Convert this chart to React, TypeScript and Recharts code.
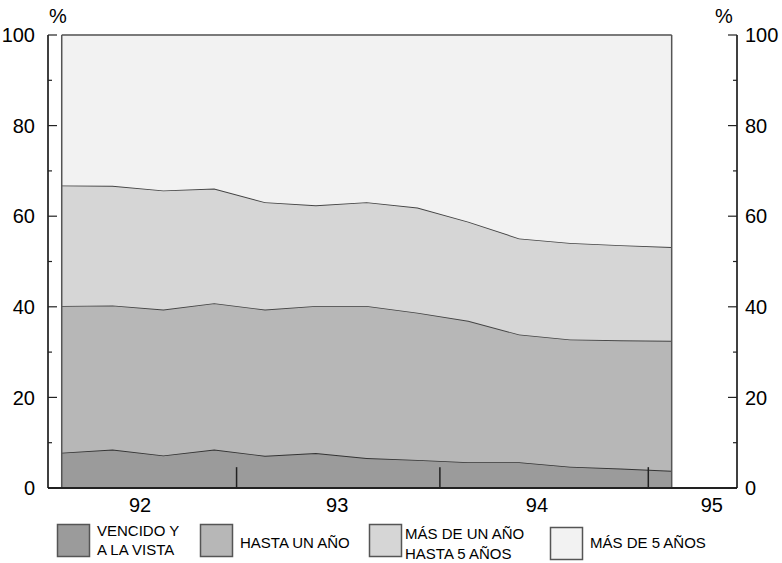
import React from "react";
import { AreaChart, Area, XAxis, YAxis, ReferenceLine } from "recharts";

const quarters = [0, 1, 2, 3, 4, 5, 6, 7, 8, 9, 10, 11, 12];
const vencido = [7.8, 8.5, 7.2, 8.5, 7.1, 7.7, 6.6, 6.2, 5.7, 5.7, 4.7, 4.3, 3.8];
const hastaUnAno = [32.4, 31.8, 32.2, 32.3, 32.3, 32.5, 33.6, 32.5, 31.2, 28.2, 28.1, 28.3, 28.7];
const unACinco = [26.6, 26.4, 26.3, 25.3, 23.7, 22.2, 22.9, 23.2, 21.9, 21.2, 21.3, 21.0, 20.7];
const masDeCinco = [33.2, 33.3, 34.3, 33.9, 36.9, 37.6, 36.9, 38.1, 41.2, 44.9, 45.9, 46.4, 46.8];

const yearLabels = ["92", "93", "94", "95"];
const yearLabelPos = [1.54, 5.42, 9.35, 12.79];
const yearTickPos = [3.44, 7.44, 11.54];
const yTicks = [0, 10, 20, 30, 40, 50, 60, 70, 80, 90, 100];

const data = quarters.map((q, i) => ({
  q,
  a: vencido[i],
  b: hastaUnAno[i],
  c: unACinco[i],
  d: masDeCinco[i],
}));

const FONT = "'Liberation Sans', Arial, sans-serif";
const colors = ["#9b9b9b", "#b7b7b7", "#d6d6d6", "#f2f2f2"];
const LEFT_AXIS_X = 48;
const RIGHT_AXIS_X = 737;

const LeftTick = (props: any) => {
  const { y, payload } = props;
  const v = payload.value;
  const major = v % 20 === 0;
  return (
    <g>
      <line x1={LEFT_AXIS_X} x2={LEFT_AXIS_X + (major ? 9 : 4)} y1={y} y2={y} stroke="#222" strokeWidth={1.2} />
      {major && (
        <text x={35} y={y} dy="0.36em" textAnchor="end" fontSize={20} fontFamily={FONT} fill="#000">
          {v}
        </text>
      )}
    </g>
  );
};

const RightTick = (props: any) => {
  const { y, payload } = props;
  const v = payload.value;
  const major = v % 20 === 0;
  return (
    <g>
      <line x1={RIGHT_AXIS_X - (major ? 9 : 4)} x2={RIGHT_AXIS_X} y1={y} y2={y} stroke="#222" strokeWidth={1.2} />
      {major && (
        <text x={745} y={y} dy="0.36em" textAnchor="start" fontSize={20} fontFamily={FONT} fill="#000">
          {v}
        </text>
      )}
    </g>
  );
};

const XTick = (props: any) => {
  const { x, payload, index } = props;
  return (
    <text x={x} y={498} dy="0.71em" textAnchor="middle" fontSize={20} fontFamily={FONT} fill="#000">
      {yearLabels[index] ?? payload.value}
    </text>
  );
};

const legendItems = [
  { lines: ["VENCIDO Y", "A LA VISTA"], box: [57, 524], text: [97, [536, 555]], color: colors[0] },
  { lines: ["HASTA UN AÑO"], box: [200, 524], text: [240, [548]], color: colors[1] },
  { lines: ["MÁS DE UN AÑO", "HASTA 5 AÑOS"], box: [369, 524], text: [405, [539, 559]], color: colors[2] },
  { lines: ["MÁS DE 5 AÑOS"], box: [550, 527], text: [590, [548]], color: colors[3] },
];

export default function App() {
  return (
    <div style={{ position: "absolute", left: 0, top: 0, width: 782, height: 563, background: "#fff" }}>
      <AreaChart
        width={782}
        height={563}
        data={data}
        margin={{ top: 35, right: 0, bottom: 45, left: 8 }}
      >
        <XAxis
          dataKey="q"
          type="number"
          domain={[-0.27, 13.285]}
          ticks={yearLabelPos}
          interval={0}
          tick={<XTick />}
          tickLine={false}
          axisLine={{ stroke: "#222", strokeWidth: 2 }}
          height={30}
          allowDataOverflow
        />
        <YAxis
          yAxisId="left"
          orientation="left"
          type="number"
          domain={[0, 100]}
          ticks={yTicks}
          interval={0}
          width={40}
          tick={<LeftTick />}
          tickLine={false}
          axisLine={{ stroke: "#000", strokeWidth: 1.5 }}
        />
        <YAxis
          yAxisId="right"
          orientation="right"
          type="number"
          domain={[0, 100]}
          ticks={yTicks}
          interval={0}
          width={45}
          tick={<RightTick />}
          tickLine={false}
          axisLine={{ stroke: "#000", strokeWidth: 1.5 }}
          allowDataOverflow
        />
        <Area yAxisId="left" type="linear" dataKey="a" stackId="1" fill={colors[0]} fillOpacity={1} stroke="#333" strokeWidth={1.8} isAnimationActive={false} />
        <Area yAxisId="left" type="linear" dataKey="b" stackId="1" fill={colors[1]} fillOpacity={1} stroke="#444" strokeWidth={1.8} isAnimationActive={false} />
        <Area yAxisId="left" type="linear" dataKey="c" stackId="1" fill={colors[2]} fillOpacity={1} stroke="#444" strokeWidth={1.8} isAnimationActive={false} />
        <Area yAxisId="left" type="linear" dataKey="d" stackId="1" fill={colors[3]} fillOpacity={1} stroke="#7a7a7a" strokeWidth={1.8} isAnimationActive={false} />
        <Area yAxisId="right" type="linear" dataKey="a" fill="none" fillOpacity={0} stroke="none" isAnimationActive={false} />
        <ReferenceLine yAxisId="left" x={0} stroke="#555" strokeWidth={1.5} />
        <ReferenceLine yAxisId="left" x={12} stroke="#555" strokeWidth={1.5} />
        {yearTickPos.map((p) => (
          <ReferenceLine
            key={p}
            yAxisId="left"
            segment={[{ x: p, y: 0 }, { x: p, y: 4.6 }]}
            stroke="#222"
            strokeWidth={1.5}
          />
        ))}
      </AreaChart>
      <svg width={782} height={563} style={{ position: "absolute", left: 0, top: 0, pointerEvents: "none" }}>
        <text x={58} y={23} textAnchor="middle" fontSize={20} fontFamily={FONT} fill="#000">%</text>
        <text x={724} y={23} textAnchor="middle" fontSize={20} fontFamily={FONT} fill="#000">%</text>
        {legendItems.map((it, i) => (
          <g key={i}>
            <rect x={it.box[0] + 0.5} y={it.box[1] + 0.5} width={32} height={32} fill={it.color} stroke="#555" strokeWidth={1.5} />
            {it.lines.map((l, j) => (
              <text key={j} x={it.text[0] as number} y={(it.text[1] as number[])[j]} fontSize={15} fontFamily={FONT} fill="#000">
                {l}
              </text>
            ))}
          </g>
        ))}
      </svg>
    </div>
  );
}
